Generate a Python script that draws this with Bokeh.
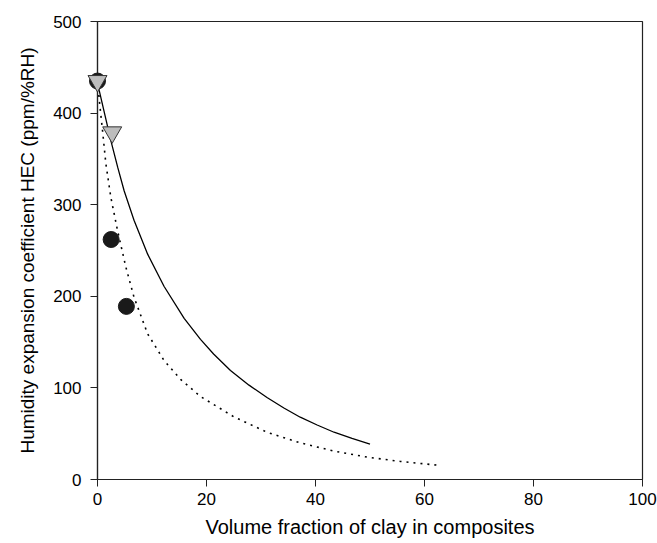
from bokeh.plotting import figure
from bokeh.embed import file_html
from bokeh.resources import INLINE
from bokeh.models import Range1d, FixedTicker

# Measured data points
circle_x = [0.0, 2.5, 5.3]
circle_y = [435, 262, 189]
tri_x = [0.0, 2.7]
tri_y = [435, 379]

# Model curves
solid_x = [0.0, 0.3, 2.45, 3.7, 4.9, 6.7, 9.2, 12.2, 15.9, 18.9, 21.3, 24.4, 27.8, 31.1, 34.2, 37.2, 40.3, 43.4, 46.7, 50.0]
solid_y = [435, 425, 370, 341, 315, 283, 246, 211, 176, 153, 137, 119, 103, 89.5, 78, 68, 59.5, 51.6, 44.8, 38.5]
dot_x = [0.0, 0.4, 0.92, 1.53, 2.45, 3.67, 5.2, 6.7, 9.2, 12.2, 15.3, 18.9, 25.0, 31.1, 37.2, 43.4, 49.5, 55.6, 63.0]
dot_y = [435, 410, 381, 345, 308, 272, 232, 199, 159, 130, 109, 90.6, 68.5, 51.6, 40, 31, 24.4, 19.7, 15.3]

x_ticks = [0, 20, 40, 60, 80, 100]
y_ticks = [0, 100, 200, 300, 400, 500]

FONT = "Liberation Sans"

p = figure(width=657, height=543, output_backend="svg", toolbar_location=None,
           x_range=Range1d(0, 100), y_range=Range1d(0, 500),
           min_border_left=97, min_border_top=21, min_border_right=15, min_border_bottom=64)

p.xgrid.visible = False
p.ygrid.visible = False
p.outline_line_color = "#222222"
p.outline_line_width = 1.2
p.background_fill_color = "white"
p.border_fill_color = "white"

for ax, ticks in ((p.xaxis[0], x_ticks), (p.yaxis[0], y_ticks)):
    ax.ticker = FixedTicker(ticks=ticks)
    ax.minor_tick_line_color = None
    ax.major_tick_in = 0
    ax.major_tick_out = 7
    ax.axis_line_color = "#222222"
    ax.axis_line_width = 1.2
    ax.major_tick_line_color = "#222222"
    ax.major_label_text_font = FONT
    ax.major_label_text_font_size = "17px"
    ax.major_label_text_color = "black"
    ax.axis_label_text_font = FONT
    ax.axis_label_text_font_style = "normal"
    ax.axis_label_text_color = "black"

p.xaxis.axis_label = "Volume fraction of clay in composites"
p.yaxis.axis_label = "Humidity expansion coefficient HEC (ppm/%RH)"
p.xaxis.axis_label_text_font_size = "20px"
p.yaxis.axis_label_text_font_size = "19px"
p.xaxis.major_label_standoff = 6
p.yaxis.major_label_standoff = 9
p.xaxis.axis_label_standoff = 8
p.yaxis.axis_label_standoff = 12

p.line(solid_x, solid_y, line_color="black", line_width=1.3)
p.line(dot_x, dot_y, line_color="black", line_width=1.6, line_dash="2 5")

p.scatter(circle_x, circle_y, marker="circle", size=16,
          fill_color="#1a1a1a", line_color="#1a1a1a", level="overlay")
p.scatter(tri_x, tri_y, marker="inverted_triangle", size=19,
          fill_color="#bdbdbd", line_color="#333333", line_width=1, level="overlay")

open("out.html", "w").write(file_html(p, INLINE))
